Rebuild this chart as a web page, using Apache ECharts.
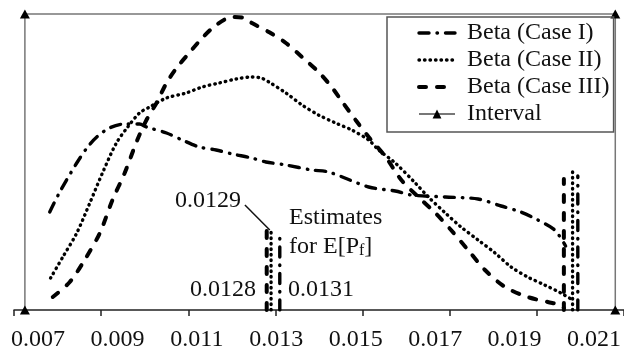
<!DOCTYPE html>
<html>
<head>
<meta charset="utf-8">
<script src="https://cdn.jsdelivr.net/npm/echarts@6/dist/echarts.min.js"></script>
<style>
    html, body { margin: 0; padding: 0; background: #fff; }
    #chart { width: 624px; height: 352px; }
</style>
</head>
<body>
<div id="chart"></div>
<script>
// density curves: [P_f, relative density]
var caseI = [
    [0.00782, 98], [0.00805, 118], [0.00844, 147], [0.00869, 163], [0.00890, 173],
    [0.00919, 182], [0.00954, 186], [0.00988, 186], [0.01004, 183], [0.01050, 177],
    [0.01086, 170], [0.01125, 163], [0.01164, 160], [0.01201, 156], [0.01246, 152],
    [0.01278, 148], [0.01324, 145], [0.01383, 140], [0.01422, 138], [0.01514, 123],
    [0.01575, 119], [0.01612, 115], [0.01690, 113], [0.01765, 111], [0.01818, 104],
    [0.01863, 98], [0.01902, 90], [0.01941, 80], [0.01966, 64]
];
var caseII = [
    [0.00784, 32], [0.00812, 53], [0.00844, 77], [0.00874, 107], [0.00903, 137],
    [0.00935, 167], [0.00961, 183], [0.00988, 197], [0.01011, 203], [0.01050, 212],
    [0.01095, 217], [0.01132, 223], [0.01171, 227], [0.01210, 231], [0.01246, 233],
    [0.01267, 232], [0.01285, 228], [0.01324, 217], [0.01361, 205], [0.01399, 195],
    [0.01438, 187], [0.01475, 180], [0.01514, 170], [0.01537, 160], [0.01575, 147],
    [0.01621, 127], [0.01651, 113], [0.01690, 97], [0.01726, 83], [0.01765, 70],
    [0.01804, 57], [0.01841, 43], [0.01879, 33], [0.01918, 25], [0.01955, 17],
    [0.01982, 10]
];
var caseIII = [
    [0.00789, 13], [0.00828, 28], [0.00862, 50], [0.00897, 77], [0.00926, 110],
    [0.00954, 137], [0.00983, 170], [0.01004, 190], [0.01027, 207], [0.01050, 227],
    [0.01073, 242], [0.01102, 257], [0.01132, 272], [0.01164, 285], [0.01201, 293],
    [0.01228, 292], [0.01246, 287], [0.01285, 278], [0.01324, 267], [0.01361, 253],
    [0.01399, 238], [0.01429, 223], [0.01452, 209], [0.01484, 190], [0.01514, 173],
    [0.01553, 153], [0.01589, 130], [0.01628, 113], [0.01667, 97], [0.01703, 80],
    [0.01742, 60], [0.01781, 40], [0.01827, 23], [0.01879, 13], [0.01925, 8],
    [0.01955, 5], [0.01962, 2]
];

// upper bounds of the beta curves (case I, II, III) and the height of their drop lines
var bounds = [0.01994, 0.01982, 0.01962];
var boundHeights = [134, 139, 131];

// estimates for E[Pf] (case III, II, I) and the height of their lines
var estimates = [0.0128, 0.0129, 0.0131];
var estimateHeights = [80, 80, 75];

// interval estimate
var interval = [0.00725, 0.0208];
var intervalTop = 296;

var tickLabels = ['0.007', '0.009', '0.011', '0.013', '0.015', '0.017', '0.019', '0.021'];
var legendNames = ['Beta (Case I)', 'Beta (Case II)', 'Beta (Case III)', 'Interval'];

var FONT = 'Liberation Serif';
var styleI = { color: '#000', width: 3.4, type: [10, 8, 0.5, 8], cap: 'round' };
var styleII = { color: '#000', width: 3.4, type: [0.5, 5], cap: 'round' };
var styleIII = { color: '#000', width: 4, type: [7, 11], cap: 'round' };
var lineStyles = [styleI, styleII, styleIII];

function vline(x, h, style) {
    return {
        type: 'line',
        data: [[x, 0], [x, h]],
        symbol: 'none',
        lineStyle: style,
        silent: true
    };
}

var legendData = legendNames.map(function (n, i) {
    if (n == 'Interval') return { name: n };
    return { name: n, itemStyle: { opacity: 0 }, lineStyle: lineStyles[i] };
});

var chartDom = document.getElementById('chart');
var myChart = echarts.init(chartDom);

var option = {
    animation: false,
    backgroundColor: '#fff',
    legend: {
        data: legendData,
        orient: 'vertical',
        left: 387,
        top: 17,
        padding: [4, 4, 6, 30],
        itemGap: 3,
        itemWidth: 36,
        itemHeight: 11,
        borderColor: '#555',
        borderWidth: 1.5,
        textStyle: {
            fontFamily: FONT,
            fontSize: 24,
            color: '#111',
            padding: [0, 0, 0, 7]
        }
    },
    grid: [
        { left: 14, right: -2.5, top: 14, bottom: 42 },
        // used only to place the tick labels
        { left: 38, right: 26, top: 14, bottom: 42 }
    ],
    xAxis: [
        {
            type: 'value',
            gridIndex: 0,
            min: 0.007,
            max: 0.021,
            interval: 0.002,
            axisLine: { show: true, lineStyle: { color: '#222', width: 1.5 } },
            axisTick: { show: true, length: 6, lineStyle: { color: '#222', width: 1.5 } },
            axisLabel: { show: false },
            splitLine: { show: false }
        },
        {
            type: 'category',
            gridIndex: 1,
            data: tickLabels,
            boundaryGap: false,
            axisLine: { show: false },
            axisTick: { show: false },
            axisLabel: {
                interval: 0,
                margin: 19,
                fontFamily: FONT,
                fontSize: 24,
                color: '#111'
            }
        }
    ],
    yAxis: [
        { type: 'value', gridIndex: 0, min: 0, max: 296, show: false },
        { type: 'value', gridIndex: 1, show: false }
    ],
    graphic: [
        { type: 'text', x: 175, y: 201, style: { text: '0.0129', fontFamily: FONT, fontSize: 24, fill: '#111', verticalAlign: 'middle' } },
        { type: 'text', x: 289, y: 218, style: { text: 'Estimates', fontFamily: FONT, fontSize: 24, fill: '#111', verticalAlign: 'middle' } },
        {
            type: 'text', x: 289, y: 247,
            style: {
                text: '{a|for E[P}{s|f}{a|]}',
                verticalAlign: 'middle',
                fill: '#111',
                rich: {
                    a: { fontFamily: FONT, fontSize: 24, fill: '#111' },
                    s: { fontFamily: FONT, fontSize: 16, fill: '#111', verticalAlign: 'bottom' }
                }
            }
        },
        { type: 'text', x: 190, y: 290, style: { text: '0.0128', fontFamily: FONT, fontSize: 24, fill: '#111', verticalAlign: 'middle' } },
        { type: 'text', x: 288, y: 290, style: { text: '0.0131', fontFamily: FONT, fontSize: 24, fill: '#111', verticalAlign: 'middle' } }
    ],
    series: [
        { name: 'Beta (Case I)', type: 'line', data: caseI, symbol: 'none', smooth: 0.3, itemStyle: { color: '#000' }, lineStyle: styleI },
        { name: 'Beta (Case II)', type: 'line', data: caseII, symbol: 'none', smooth: 0.3, itemStyle: { color: '#000' }, lineStyle: styleII },
        { name: 'Beta (Case III)', type: 'line', data: caseIII, symbol: 'none', smooth: 0.3, itemStyle: { color: '#000' }, lineStyle: styleIII },
        {
            name: 'Interval',
            type: 'line',
            data: [[interval[0], 0], [interval[0], intervalTop], [interval[1], intervalTop], [interval[1], 0]],
            symbol: 'triangle',
            symbolSize: [10, 9],
            clip: false,
            itemStyle: { color: '#000' },
            lineStyle: { color: '#777', width: 1.5 }
        },
        vline(bounds[0], boundHeights[0], styleI),
        vline(bounds[1], boundHeights[1], styleII),
        vline(bounds[2], boundHeights[2], styleIII),
        vline(estimates[0], estimateHeights[0], styleIII),
        vline(estimates[1], estimateHeights[1], styleII),
        vline(estimates[2], estimateHeights[2], styleI),
        /*0.0129 leader line*/
        {
            type: 'line',
            data: [[0.01230, 105], [0.01287, 80]],
            symbol: 'none',
            silent: true,
            lineStyle: { color: '#111', width: 1.5 }
        }
    ]
};

option && myChart.setOption(option);
</script>
</body>
</html>
